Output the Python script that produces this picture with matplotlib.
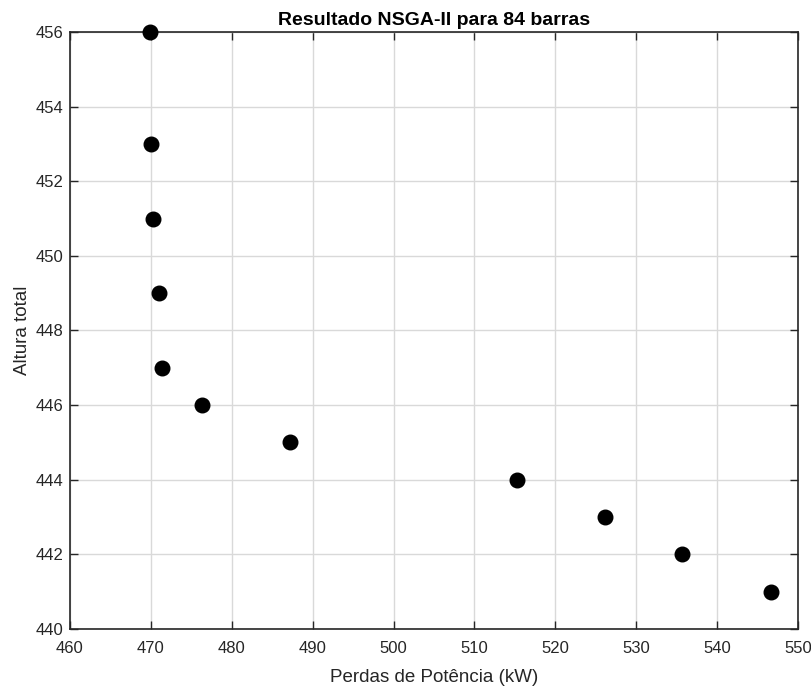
import numpy as np
import matplotlib.pyplot as plt

plt.rcParams['font.family'] = ['Liberation Sans', 'DejaVu Sans']

perdas = [469.9, 470.0, 470.3, 471.0, 471.4, 476.3, 487.2, 515.3, 526.1, 535.7, 546.6]
altura = [456, 453, 451, 449, 447, 446, 445, 444, 443, 442, 441]

fig = plt.figure(figsize=(8.11, 6.86), dpi=100)
ax = fig.add_axes([0.0863, 0.0831, 0.8977, 0.8703])

ax.scatter(perdas, altura, s=110, color='black', zorder=3, clip_on=False)

ax.set_xlim(460, 550)
ax.set_ylim(440, 456)
ax.set_xticks(np.arange(460, 551, 10))
ax.set_yticks(np.arange(440, 457, 2))

ax.grid(True, color='#d9d9d9', linewidth=1.0)
ax.set_axisbelow(True)
ax.tick_params(direction='in', length=5.5, width=1.0, colors='#262626',
               labelsize=12, top=True, right=True, labeltop=False, labelright=False)
ax.tick_params(axis='x', pad=9)
ax.tick_params(axis='y', pad=5)
for s in ax.spines.values():
    s.set_color('#262626')
    s.set_linewidth(1.2)

ax.set_title('Resultado NSGA-II para 84 barras', fontsize=14, fontweight='bold', pad=5)
ax.set_xlabel('Perdas de Potência (kW)', fontsize=13.5, color='#262626', labelpad=9)
ax.set_ylabel('Altura total', fontsize=13.5, color='#262626', labelpad=3)

fig.savefig('out.png', dpi=100)
